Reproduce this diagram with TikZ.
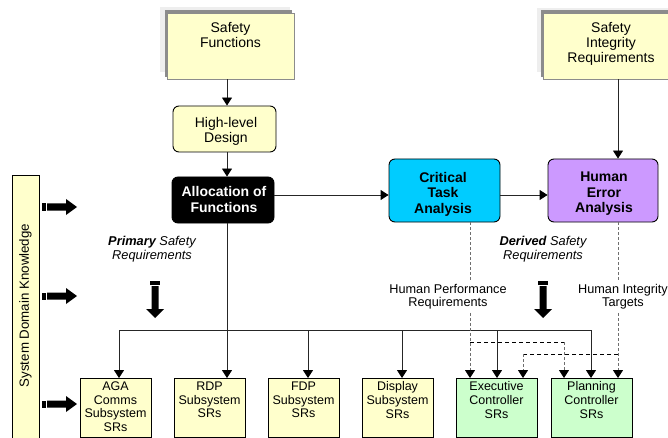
\documentclass[tikz,border=0pt]{standalone}
\usepackage{fontspec}
\setmainfont{Liberation Sans}
\usetikzlibrary{arrows.meta}
\definecolor{paleyellow}{HTML}{FFFFCC}
\definecolor{palegreen}{HTML}{CCFFCC}
\definecolor{ctacyan}{HTML}{00CCFF}
\definecolor{heaviolet}{HTML}{CC99FF}
\definecolor{dashgray}{HTML}{6E6E6E}
\definecolor{shadelight}{HTML}{EEEEEE}
\definecolor{shadedark}{HTML}{8C8C8C}

\begin{document}
\begin{tikzpicture}[x=1pt,y=-1pt,
  arr/.style={-{Triangle[width=10pt,length=8pt,color=black]}},
  conn/.style={line width=0.9pt, draw=black!85},
  gdash/.style={line width=0.9pt, draw=dashgray, dash pattern=on 3pt off 2pt},
  kdash/.style={line width=0.9pt, draw=black, dash pattern=on 4pt off 3pt},
  bigtext/.style={font=\fontsize{14}{15}\selectfont, align=center, inner sep=0pt},
  boldtext/.style={font=\fontsize{14}{15.5}\selectfont\bfseries, align=center, inner sep=0pt},
  subtext/.style={font=\fontsize{12.5}{13.7}\selectfont, align=center, inner sep=0pt},
  lbltext/.style={font=\fontsize{12.8}{14}\selectfont\itshape, align=center, inner sep=0pt},
  reqtext/.style={font=\fontsize{12.7}{12.5}\selectfont, align=center, inner xsep=0pt, inner ysep=4pt, fill=white},
  sqbox/.style={rectangle, draw=shadedark, line width=0.8pt, fill=paleyellow, inner sep=0pt},
  rbox/.style={rectangle, rounded corners=6pt, draw=black, line width=0.9pt, align=center,
               font=\fontsize{14}{15}\selectfont, inner sep=0pt},
  subbox/.style={rectangle, draw=black, line width=0.9pt, inner sep=0pt, minimum height=59},
  rblock/.pic={
    \fill[black] (0,-3.5) rectangle (4,3.5);
    \fill[black] (5,-3.5) -- (24,-3.5) -- (24,-8) -- (35,0) -- (24,8) -- (24,3.5) -- (5,3.5) -- cycle;
  },
  dblock/.pic={
    \fill[black] (-5,0) rectangle (5,4);
    \fill[black] (-3.5,5) -- (-3.5,28) -- (-9,28) -- (0,37) -- (9,28) -- (3.5,28) -- (3.5,5) -- cycle;
  }
]
\useasboundingbox (0,0) rectangle (668,438);

% ---- source boxes with raised edges
\fill[shadelight] (160,7) rectangle (290,72);
\fill[shadedark] (164.5,10.5) rectangle (292,77);
\node[sqbox, minimum width=127, minimum height=66] (sf) at (230.5,46) {};
\node[bigtext, anchor=north] (sftxt) at (230.5,22) {Safety\\Functions};

\fill[shadelight] (537,8) rectangle (680,72);
\fill[shadedark] (540.5,10.5) rectangle (680,77);
\node[sqbox, minimum width=137, minimum height=66] (sir) at (611.5,46) {};
\node[bigtext, anchor=north] (sirtxt) at (611,22) {Safety\\Integrity\\Requirements};

% ---- process boxes
\node[rbox, fill=paleyellow, minimum width=103, minimum height=46] (hld) at (224.5,129) {};
\node[bigtext] (hldtxt) at (226,131) {High-level\\Design};
\node[rbox, fill=black, minimum width=102, minimum height=46] (aof) at (223,200) {};
\node[boldtext, text=white] (aoftxt) at (224,199.5) {Allocation of\\Functions};
\node[rbox, fill=ctacyan, minimum width=111, minimum height=63] (cta) at (444.5,190.5) {};
\node[boldtext] (ctatxt) at (443,194) {Critical\\Task\\Analysis};
\node[rbox, fill=heaviolet, minimum width=110, minimum height=63] (hea) at (603,190.5) {};
\node[boldtext] (heatxt) at (604,194) {Human\\Error\\Analysis};

% ---- domain knowledge bar
\node[rectangle, draw=black, line width=0.9pt, fill=paleyellow, minimum width=27, minimum height=272] (sdk) at (25.5,311) {};
\node[rotate=90, font=\fontsize{13.3}{14}\selectfont, inner sep=0pt] (sdktxt) at (25.5,305.5) {System Domain Knowledge};

% ---- subsystem requirement boxes
\node[subbox, fill=paleyellow, minimum width=71] (aga) at (115.5,408) {};
\node[subbox, fill=paleyellow, minimum width=71] (rdp) at (209.5,408) {};
\node[subbox, fill=paleyellow, minimum width=71] (fdp) at (303.5,408) {};
\node[subbox, fill=paleyellow, minimum width=71] (dsp) at (397.5,408) {};
\node[subbox, fill=palegreen, minimum width=81] (exc) at (496.5,408) {};
\node[subbox, fill=palegreen, minimum width=81] (pln) at (591.5,408) {};
\node[subtext, anchor=north] (agatxt) at (aga.north) [yshift=-3.5pt] {AGA\\Comms\\Subsystem\\SRs};
\node[subtext, anchor=north] (rdptxt) at (rdp.north) [yshift=-3.5pt] {RDP\\Subsystem\\SRs};
\node[subtext, anchor=north] (fdptxt) at (fdp.north) [yshift=-3.5pt] {FDP\\Subsystem\\SRs};
\node[subtext, anchor=north] (dsptxt) at (dsp.north) [yshift=-3.5pt] {Display\\Subsystem\\SRs};
\node[subtext, anchor=north] (exctxt) at (exc.north) [yshift=-3.5pt] {Executive\\Controller\\SRs};
\node[subtext, anchor=north] (plntxt) at (pln.north) [yshift=-3.5pt] {Planning\\Controller\\SRs};

% ---- labels
\node[lbltext] (prim) at (152,249) {\textbf{Primary} Safety\\Requirements};
\node[lbltext] (derv) at (543,249) {\textbf{Derived} Safety\\Requirements};
\node[reqtext] (hpr) at (448,296.5) {Human Performance\\Requirements};
\node[reqtext] (hit) at (623,296.5) {Human Integrity\\Targets};

% ---- guide coordinates
\coordinate (spine) at (227,0);
\coordinate (row) at (0,195);
\coordinate (bus) at (0,330);
\coordinate (xa) at (119,0);
\coordinate (xf) at (308,0);
\coordinate (xd) at (402,0);
\coordinate (xe) at (497,0);
\coordinate (xp) at (591,0);
\coordinate (xhp) at (470,0);
\coordinate (xhi) at (618,0);
\coordinate (xe2) at (523,0);
\coordinate (xp2) at (564,0);
\coordinate (r1) at (0,342);
\coordinate (r2) at (0,354);

% ---- main flow
\draw[conn, arr] (sf.south -| spine) -- (hld.north -| spine);
\draw[conn, arr] (hld.south -| spine) -- (aof.north -| spine);
\draw[conn, arr] (aof.east |- row) -- (cta.west |- row);
\draw[conn, arr] (cta.east |- row) -- (hea.west |- row);
\draw[conn, arr] (sir.south -| xhi) -- (hea.north -| xhi);

% ---- primary requirements distribution
\draw[conn, arr] (aof.south -| spine) -- (rdp.north -| spine);
\draw[conn] (xa |- bus) -- (xp |- bus);
\draw[conn, arr] (xa |- bus) -- (aga.north -| xa);
\draw[conn, arr] (xf |- bus) -- (fdp.north -| xf);
\draw[conn, arr] (xd |- bus) -- (dsp.north -| xd);
\draw[conn, arr] (xe |- bus) -- (exc.north -| xe);
\draw[conn, arr] (xp |- bus) -- (pln.north -| xp);

% ---- derived requirements
\draw[gdash] (cta.south -| xhp) -- (hpr.north -| xhp);
\draw[gdash, arr] (hpr.south -| xhp) -- (exc.north -| xhp);
\draw[gdash] (hea.south -| xhi) -- (hit.north -| xhi);
\draw[gdash, arr] (hit.south -| xhi) -- (pln.north -| xhi);
\draw[kdash] (xhp |- r1) -- (xp2 |- r1);
\draw[gdash, arr] (xp2 |- r1) -- (pln.north -| xp2);
\draw[kdash] (xhi |- r2) -- (xe2 |- r2);
\draw[gdash, arr] (xe2 |- r2) -- (exc.north -| xe2);

% ---- block arrows
\pic at (42,207) {rblock};
\pic at (42,296) {rblock};
\pic at (42,404) {rblock};
\pic at (155,281) {dblock};
\pic at (543,281) {dblock};

\end{tikzpicture}
\end{document}
